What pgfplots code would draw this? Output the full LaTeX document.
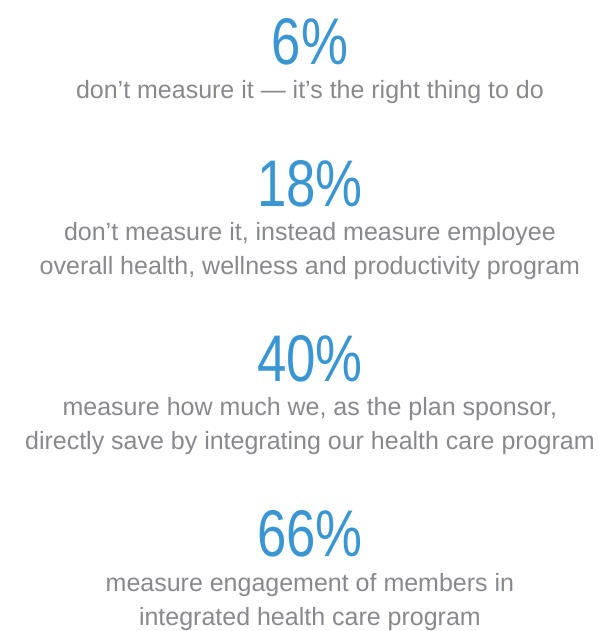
\documentclass[border=0pt]{standalone}
\usepackage{pgfplots}
\pgfplotsset{compat=1.18}
\usepackage{fontspec}
\setmainfont{Liberation Sans}
\newfontfamily\bigfont{Liberation Sans}[FakeStretch=0.80]
\definecolor{pblue}{HTML}{3A96D2}
\definecolor{tgrey}{HTML}{88898C}
\begin{document}
\begin{tikzpicture}
\begin{axis}[
  width=598pt, height=631pt, scale only axis,
  xmin=0, xmax=598, ymin=0, ymax=631,
  hide axis, clip=false,
  /pgf/number format/assume math mode=true,
  nodes near coords={\pgfmathprintnumber{\pgfplotspointmeta}\%},
  nodes near coords align={center},
  every node near coord/.append style={anchor=base, inner sep=0pt,
     font=\bigfont\fontsize{66}{70}\selectfont, text=pblue},
]
\path (axis cs:0,0) rectangle (axis cs:598,631);
\addplot[draw=none, mark=none, point meta=explicit] coordinates {
  (310,566)[6]
  (310,424)[18]
  (310,249)[40]
  (310,74)[66]
};
\begin{scope}[every node/.style={anchor=base, inner sep=0pt, text=tgrey,
   font=\fontsize{25}{28}\selectfont}]
\node at (axis cs:310,532) {don’t measure it — it’s the right thing to do};
\node at (axis cs:310,390) {don’t measure it, instead measure employee};
\node at (axis cs:310,356) {overall health, wellness and productivity program};
\node at (axis cs:310,215) {measure how much we, as the plan sponsor,};
\node at (axis cs:310,181) {directly save by integrating our health care program};
\node at (axis cs:310,39) {measure engagement of members in};
\node at (axis cs:310,5) {integrated health care program};
\end{scope}
\end{axis}
\end{tikzpicture}
\end{document}
